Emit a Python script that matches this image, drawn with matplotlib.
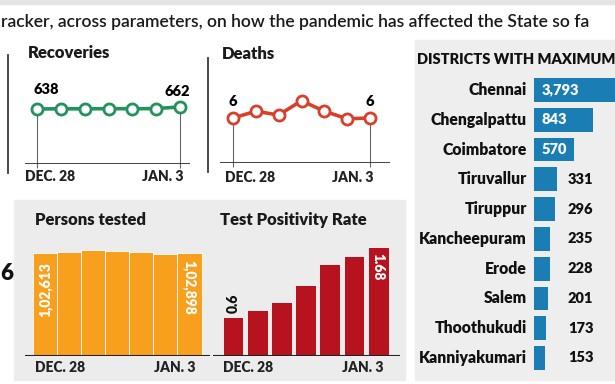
import matplotlib
matplotlib.use('Agg')
import matplotlib.pyplot as plt
from matplotlib.patches import Rectangle
from matplotlib.lines import Line2D

# data (Dec 28 - Jan 3)
date_labels = ['DEC. 28', 'JAN. 3']
recoveries = [638, 641, 640, 642, 641, 643, 662]
deaths = [6, 6.9, 6.4, 8.3, 6.9, 5.9, 6]
persons_tested = [102613, 104000, 105700, 105000, 104000, 101700, 102898]
tpr = [0.6, 0.71, 0.83, 1.1, 1.41, 1.54, 1.68]
districts = ['Chennai', 'Chengalpattu', 'Coimbatore', 'Tiruvallur', 'Tiruppur',
             'Kancheepuram', 'Erode', 'Salem', 'Thoothukudi', 'Kanniyakumari']
district_cases = [3793, 843, 570, 331, 296, 235, 228, 201, 173, 153]

FONT = 'Lato'
plt.rcParams['font.family'] = [FONT, 'DejaVu Sans']
BOLD = 'heavy'

W, H = 615, 384
PT = 0.72  # one pixel in points at dpi 100
fig = plt.figure(figsize=(W / 100, H / 100), dpi=100)


def px_axes(x0, y0, x1, y1):
    ax = fig.add_axes([x0 / W, 1 - y1 / H, (x1 - x0) / W, (y1 - y0) / H])
    ax.set_axis_off()
    return ax


def box(x0, y0, x1, y1, color):
    fig.add_artist(Rectangle((x0 / W, 1 - y1 / H), (x1 - x0) / W, (y1 - y0) / H,
                             transform=fig.transFigure, color=color, zorder=0))


def vline(x, y0, y1):
    fig.add_artist(Line2D([x / W, x / W], [1 - y0 / H, 1 - y1 / H],
                          transform=fig.transFigure, color='#3a3a3a', lw=1.3))


def ftext(x, y, s, **kw):
    fig.text(x / W, 1 - y / H, s, **kw)


def fmt_in(v):  # indian grouping 1,02,613
    return f"{v // 100000},{(v // 1000) % 100:02d},{v % 1000:03d}"


# backgrounds
box(0, 0, W, 4, '#e4e4e4')
box(14, 200, 405, 380, '#ececec')
box(415, 40, W, 380, '#eeeeee')

ftext(1, 22, 'racker, across parameters, on how the pandemic has affected the State so fa',
      fontsize=12.6, fontweight='semibold', va='center', ha='left', color='#1a1a1a')
ftext(0, 273, '6', fontsize=16, fontweight=BOLD, ha='left', va='center', color='#111')

vline(8, 55, 173)
vline(208, 58, 172)


def date_ticks(ax, n, dx0, dx1, dy):
    ax.annotate(date_labels[0], (0, 0), xytext=(dx0 * PT, -dy * PT), textcoords='offset points',
                ha='left', va='center', fontsize=10, fontweight=BOLD, color='#222',
                annotation_clip=False)
    ax.annotate(date_labels[1], (n - 1, 0), xytext=(dx1 * PT, -dy * PT), textcoords='offset points',
                ha='right', va='center', fontsize=10, fontweight=BOLD, color='#222',
                annotation_clip=False)


def line_panel(x0, x1, first_px, last_px, base_y, first_y, top_y, values, color):
    ax = px_axes(x0, top_y, x1, base_y)
    n = len(values)
    step = (last_px - first_px) / (n - 1)
    ax.set_xlim((x0 - first_px) / step, (x1 - first_px) / step)
    ax.set_ylim(0, values[0] * (base_y - top_y) / (base_y - first_y))
    ax.axhline(0, color='#333', lw=1.3)
    ax.vlines([0, n - 1], -values[0] * 4 / (base_y - first_y), [values[0], values[-1]],
              color='#666', lw=0.8, clip_on=False, zorder=1)
    ax.plot(range(n), values, color=color, lw=2.6, marker='o', ms=8,
            mfc='white', mec=color, mew=2, zorder=3, clip_on=False)
    return ax


# Recoveries
ftext(28, 53, 'Recoveries', fontsize=12, fontweight=BOLD, va='center', color='#1a1a1a')
ax = line_panel(25, 190, 37, 180, 164, 109, 80, recoveries, '#23935c')
ax.annotate(str(recoveries[0]), (0, recoveries[0]), xytext=(9 * PT, 20 * PT),
            textcoords='offset points', ha='center', va='center', fontsize=10.5, fontweight=BOLD)
ax.annotate(str(recoveries[-1]), (6, recoveries[-1]), xytext=(-3 * PT, 15 * PT),
            textcoords='offset points', ha='center', va='center', fontsize=10.5, fontweight=BOLD)
date_ticks(ax, 7, -12, 3, 13)

# Deaths
ftext(222, 54, 'Deaths', fontsize=12, fontweight=BOLD, va='center', color='#1a1a1a')
ax = line_panel(220, 390, 233, 370, 163, 118, 80, deaths, '#d8402c')
for i in (0, len(deaths) - 1):
    ax.annotate(f"{deaths[i]:g}", (i, deaths[i]), xytext=(0, 16 * PT),
                textcoords='offset points', ha='center', va='center', fontsize=10.5, fontweight=BOLD)
date_ticks(ax, 7, -8, 3, 14)


def bar_panel(x0, x1, first_c, last_c, base_y, top_y, values, scale_px, width, color):
    ax = px_axes(x0, top_y, x1, base_y)
    n = len(values)
    step = (last_c - first_c) / (n - 1)
    ax.set_xlim((x0 - first_c) / step, (x1 - first_c) / step)
    ax.set_ylim(0, (base_y - top_y) / scale_px)
    ax.bar(range(n), values, width=width, color=color, edgecolor='white', linewidth=0.6, zorder=2)
    ax.axhline(0, color='#222', lw=1.5, zorder=3)
    return ax


# Persons tested
ftext(35, 220, 'Persons tested', fontsize=12, fontweight=BOLD, va='center', color='#1a1a1a')
ax = bar_panel(25, 210, 45, 189.5, 356, 235, persons_tested, 102.7 / 102613, 1.0, '#f8a01d')
ax.annotate(fmt_in(persons_tested[0]), (0, persons_tested[0]), xytext=(0, -9 * PT),
            textcoords='offset points', rotation=90, ha='center', va='top',
            fontsize=10, fontweight=BOLD, color='white')
ax.annotate(fmt_in(persons_tested[-1]), (6, persons_tested[-1]), xytext=(0, -7 * PT),
            textcoords='offset points', rotation=-90, ha='center', va='top',
            fontsize=10, fontweight=BOLD, color='white')
date_ticks(ax, 7, -10, 5.5, 11)

# Test positivity rate
ftext(220, 220, 'Test Positivity Rate', fontsize=12, fontweight=BOLD, va='center', color='#1a1a1a')
ax = bar_panel(213, 400, 233, 378.3, 356, 235, tpr, 65.0, 0.86, '#b7131e')
ax.annotate(f"{tpr[0]:g}", (0, tpr[0]), xytext=(0, 4 * PT),
            textcoords='offset points', rotation=90, ha='center', va='bottom',
            fontsize=10, fontweight=BOLD, color='#111')
ax.annotate(f"{tpr[-1]:g}", (6, tpr[-1]), xytext=(0, -6 * PT),
            textcoords='offset points', rotation=-90, ha='center', va='top',
            fontsize=10, fontweight=BOLD, color='white')
date_ticks(ax, 7, -10, 5, 11)

# Districts
ftext(417, 60, 'DISTRICTS WITH MAXIMUM', fontsize=10.5, fontweight=BOLD, va='center', color='#111')
row0, rowN = 90, 358
step = (rowN - row0) / (len(districts) - 1)
ax = px_axes(534, row0 - step / 2, W, rowN + step / 2)
ax.set_ylim(len(districts) - 0.5, -0.5)
ax.set_xlim(0, (W - 534) / 0.07)
ax.barh(range(len(districts)), district_cases, height=0.8, color='#1a7db4', zorder=2)
for i, (name, v) in enumerate(zip(districts, district_cases)):
    ax.annotate(name, (0, i), xytext=(-7 * PT, 0), textcoords='offset points',
                ha='right', va='center', fontsize=11.3, fontweight=BOLD, color='#111',
                annotation_clip=False)
    inside = v * 0.07 > 35
    ax.annotate(f"{v:,}", (0, i), xytext=((8 if inside else 34) * PT, 0), textcoords='offset points',
                ha='left', va='center', fontsize=10.5, fontweight=BOLD,
                color='white' if inside else '#111', annotation_clip=False)

fig.savefig('out.png', dpi=100)
